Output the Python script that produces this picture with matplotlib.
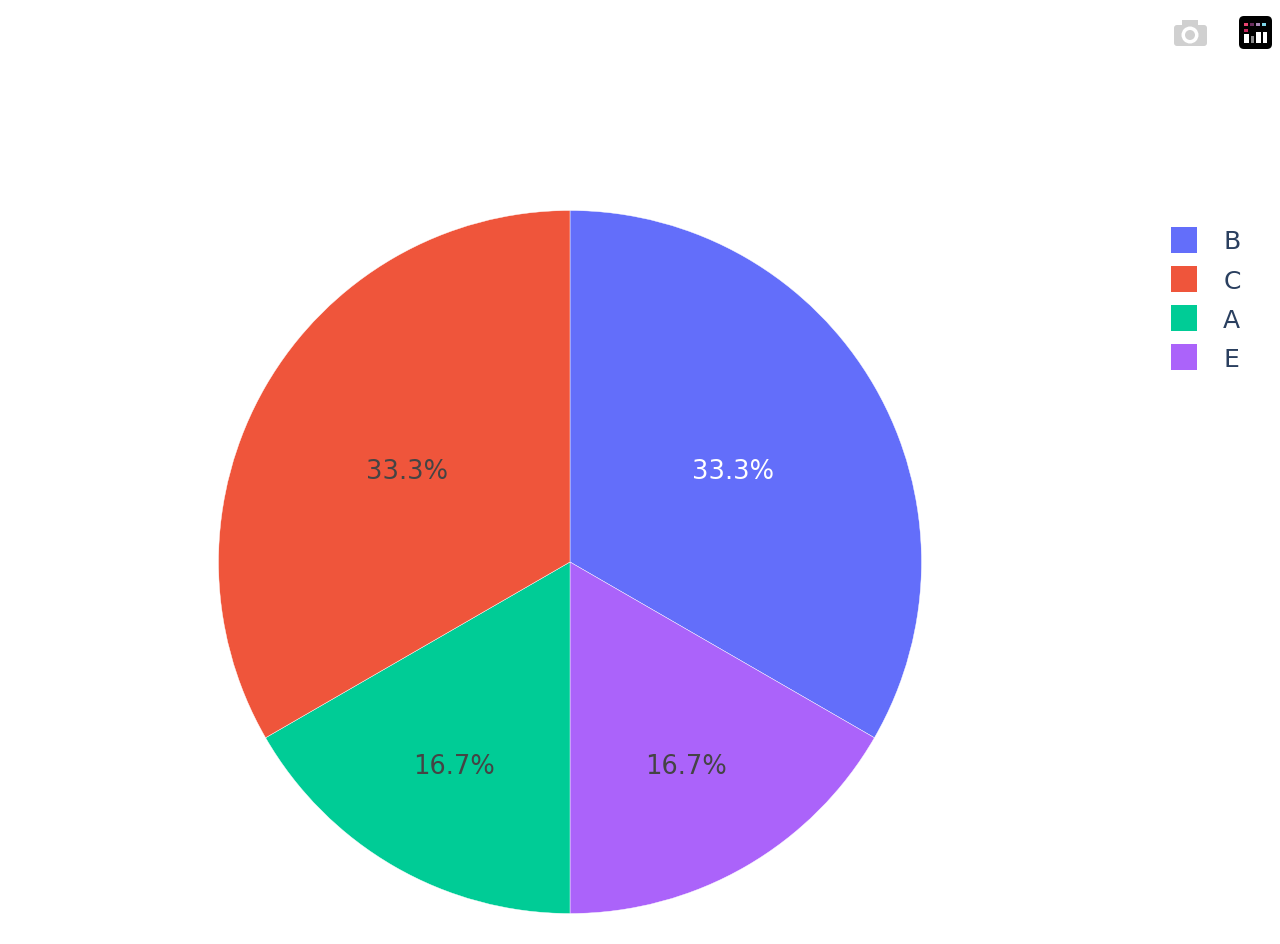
import matplotlib
matplotlib.use("Agg")
import matplotlib.pyplot as plt
import numpy as np
from matplotlib.patches import FancyBboxPatch, Rectangle, Circle

W, H = 1280, 945
categories = ["B", "E", "A", "C"]
values = [2, 1, 1, 2]
slice_colors = ["#636EFA", "#AB63FA", "#00CC96", "#EF553B"]
text_colors = ["#FFFFFF", "#444444", "#444444", "#444444"]
label_radii = [0.535, 0.66, 0.66, 0.535]
legend_order = ["B", "C", "A", "E"]

fig = plt.figure(figsize=(W / 100, H / 100), dpi=100, facecolor="white")

# Pie axes: spans the disc in pixel coordinates
cx, cy, R = 570, 563, 351.5
ax = fig.add_axes([(cx - R) / W, 1 - (cy + R) / H, 2 * R / W, 2 * R / H])
wedges, _ = ax.pie(values, colors=slice_colors, startangle=90, counterclock=False,
                   radius=1, wedgeprops=dict(edgecolor="white", linewidth=0.3))
ax.set_xlim(-1, 1)
ax.set_ylim(-1, 1)
ax.set_aspect("equal")
ax.axis("off")

total = sum(values)
for w, v, c, r in zip(wedges, values, text_colors, label_radii):
    mid = np.deg2rad((w.theta1 + w.theta2) / 2)
    ax.text(r * np.cos(mid), r * np.sin(mid), f"{100 * v / total:.1f}%",
            ha="center", va="center_baseline", color=c, fontsize=18.5)

# Legend
by_name = dict(zip(categories, wedges))
handles = [by_name[n] for n in legend_order]
leg = fig.legend(handles, legend_order, loc="upper left",
                 bbox_to_anchor=(1171 / W, 1 - 228 / H), bbox_transform=fig.transFigure,
                 frameon=False, fontsize=18, borderpad=0, borderaxespad=0,
                 handlelength=1.04, handleheight=1.22, handletextpad=1.05,
                 labelspacing=0.51, labelcolor="#2A3F5F")
for h in leg.legend_handles:
    h.set_edgecolor("none")

# Toolbar icons, in a pixel-coordinate overlay
ov = fig.add_axes([0, 0, 1, 1], zorder=5)
ov.set_xlim(0, W)
ov.set_ylim(H, 0)
ov.axis("off")
ov.patch.set_alpha(0)

grey = "#D0D0D0"
ov.add_patch(FancyBboxPatch((1174, 26), 33, 21, boxstyle="round,pad=0,rounding_size=3", fc=grey, ec="none"))
ov.add_patch(Rectangle((1182, 21), 16, 6, fc=grey, ec="none"))
ov.add_patch(Circle((1190, 36), 8.5, fc="white", ec="none"))
ov.add_patch(Circle((1190, 36), 5, fc=grey, ec="none"))

ov.add_patch(FancyBboxPatch((1239, 17), 33, 33, boxstyle="round,pad=0,rounding_size=5", fc="black", ec="none"))
for x0, x1, top, col in [(1244, 1249, 35, "white"), (1251, 1254, 37, "#8A8A8A"),
                         (1256, 1261, 33, "white"), (1263, 1267, 33, "white")]:
    ov.add_patch(Rectangle((x0, top), x1 - x0, 44 - top, fc=col, ec="none"))
for x, y, col in [(1246, 25, "#E8436F"), (1246, 31, "#C2255C"), (1252, 25, "#6B2E5F"),
                  (1258, 25, "#A98BB8"), (1264, 25, "#7FD6E8")]:
    ov.add_patch(Rectangle((x - 2, y - 1.5), 4, 3, fc=col, ec="none"))

fig.savefig("out.png", dpi=100, facecolor="white")
